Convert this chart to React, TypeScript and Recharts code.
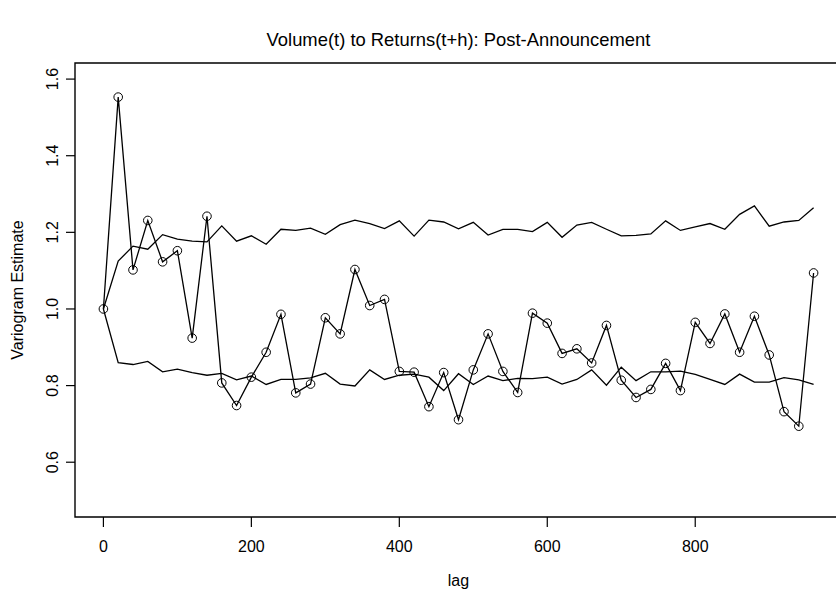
import { LineChart, Line, XAxis, YAxis, ReferenceArea } from "recharts"

const lags = [
  0, 20, 40, 60, 80, 100, 120, 140, 160, 180, 200, 220, 240, 260, 280, 300,
  320, 340, 360, 380, 400, 420, 440, 460, 480, 500, 520, 540, 560, 580, 600,
  620, 640, 660, 680, 700, 720, 740, 760, 780, 800, 820, 840, 860, 880, 900,
  920, 940, 960,
]

// variogram estimate (points with circles)
const variogram = [
  1.0, 1.553, 1.102, 1.231, 1.123, 1.152, 0.924, 1.242, 0.807, 0.748, 0.822,
  0.887, 0.986, 0.781, 0.804, 0.977, 0.935, 1.103, 1.009, 1.025, 0.837, 0.835,
  0.745, 0.834, 0.711, 0.841, 0.935, 0.837, 0.782, 0.989, 0.963, 0.884, 0.896,
  0.859, 0.957, 0.814, 0.769, 0.79, 0.858, 0.787, 0.965, 0.91, 0.987, 0.887,
  0.981, 0.88, 0.732, 0.694, 1.094,
]

const upperBand = [
  1.0, 1.125, 1.164, 1.156, 1.194, 1.182, 1.177, 1.175, 1.217, 1.177, 1.191,
  1.169, 1.208, 1.205, 1.211, 1.195, 1.22, 1.232, 1.223, 1.21, 1.23, 1.19,
  1.232, 1.227, 1.209, 1.226, 1.193, 1.208, 1.208, 1.202, 1.226, 1.187, 1.219,
  1.226, 1.208, 1.191, 1.192, 1.196, 1.23, 1.205, 1.214, 1.223, 1.208, 1.247,
  1.269, 1.216, 1.227, 1.231, 1.264,
]

const lowerBand = [
  1.0, 0.86, 0.855, 0.863, 0.836, 0.843, 0.834, 0.827, 0.832, 0.815, 0.825,
  0.803, 0.816, 0.816, 0.82, 0.832, 0.804, 0.799, 0.841, 0.816, 0.827, 0.83,
  0.822, 0.787, 0.831, 0.803, 0.825, 0.813, 0.819, 0.818, 0.822, 0.804, 0.816,
  0.841, 0.801, 0.848, 0.813, 0.836, 0.836, 0.838, 0.829, 0.816, 0.803, 0.83,
  0.809, 0.809, 0.821, 0.815, 0.803,
]

const xTicks = [0, 200, 400, 600, 800]
const yTicks = [0.6, 0.8, 1.0, 1.2, 1.4, 1.6]

const data = lags.map((lag, i) => ({
  lag,
  vario: variogram[i],
  upper: upperBand[i],
  lower: lowerBand[i],
}))

const FONT = "'Liberation Sans', Arial, Helvetica, sans-serif"
const X_DOMAIN = [-38.4, 998.4]
const Y_DOMAIN = [0.457, 1.642]

const RotatedTick = ({ x, y, payload }: any) => (
  <text
    x={x}
    y={y}
    transform={`rotate(-90, ${x}, ${y})`}
    textAnchor="middle"
    fontSize={16}
    fontFamily={FONT}
    fill="#000"
  >
    {Number(payload.value).toFixed(1)}
  </text>
)

export default function App() {
  return (
    <div
      style={{
        position: "absolute",
        left: 0,
        top: 0,
        width: 836,
        height: 595,
        overflow: "hidden",
        background: "#fff",
      }}
    >
      <LineChart
        width={850}
        height={595}
        data={data}
        margin={{ top: 63, right: 8, left: 0, bottom: 0 }}
      >
        <XAxis
          dataKey="lag"
          type="number"
          domain={X_DOMAIN}
          ticks={xTicks}
          allowDataOverflow
          height={78}
          tickSize={10}
          tickMargin={14}
          axisLine={false}
          tickLine={{ stroke: "#000", strokeWidth: 1.2 }}
          tick={{ fontSize: 16, fill: "#000", fontFamily: FONT }}
        />
        <YAxis
          type="number"
          domain={Y_DOMAIN}
          ticks={yTicks}
          allowDataOverflow
          width={75}
          tickSize={9}
          tickMargin={8}
          axisLine={false}
          tickLine={{ stroke: "#000", strokeWidth: 1.2 }}
          tick={<RotatedTick />}
        />
        <ReferenceArea
          x1={X_DOMAIN[0]}
          x2={X_DOMAIN[1]}
          y1={Y_DOMAIN[0]}
          y2={Y_DOMAIN[1]}
          fill="none"
          fillOpacity={0}
          stroke="#000"
          strokeWidth={1.4}
        />
        <Line
          dataKey="upper"
          stroke="#000"
          strokeWidth={1.3}
          dot={false}
          isAnimationActive={false}
        />
        <Line
          dataKey="lower"
          stroke="#000"
          strokeWidth={1.3}
          dot={false}
          isAnimationActive={false}
        />
        <Line
          dataKey="vario"
          stroke="#000"
          strokeWidth={1.3}
          dot={{ r: 4.3, stroke: "#000", strokeWidth: 1, fill: "none" }}
          isAnimationActive={false}
        />
      </LineChart>
      <svg
        width={836}
        height={595}
        style={{ position: "absolute", left: 0, top: 0, pointerEvents: "none" }}
      >
        <text
          x={458.5}
          y={46}
          textAnchor="middle"
          fontSize={18.4}
          fontFamily={FONT}
          fill="#000"
        >
          Volume(t) to Returns(t+h): Post-Announcement
        </text>
        <text
          x={458.5}
          y={586}
          textAnchor="middle"
          fontSize={16}
          fontFamily={FONT}
          fill="#000"
        >
          lag
        </text>
        <text
          x={23}
          y={290}
          transform="rotate(-90, 23, 290)"
          textAnchor="middle"
          fontSize={16}
          fontFamily={FONT}
          fill="#000"
        >
          Variogram Estimate
        </text>
      </svg>
    </div>
  )
}
